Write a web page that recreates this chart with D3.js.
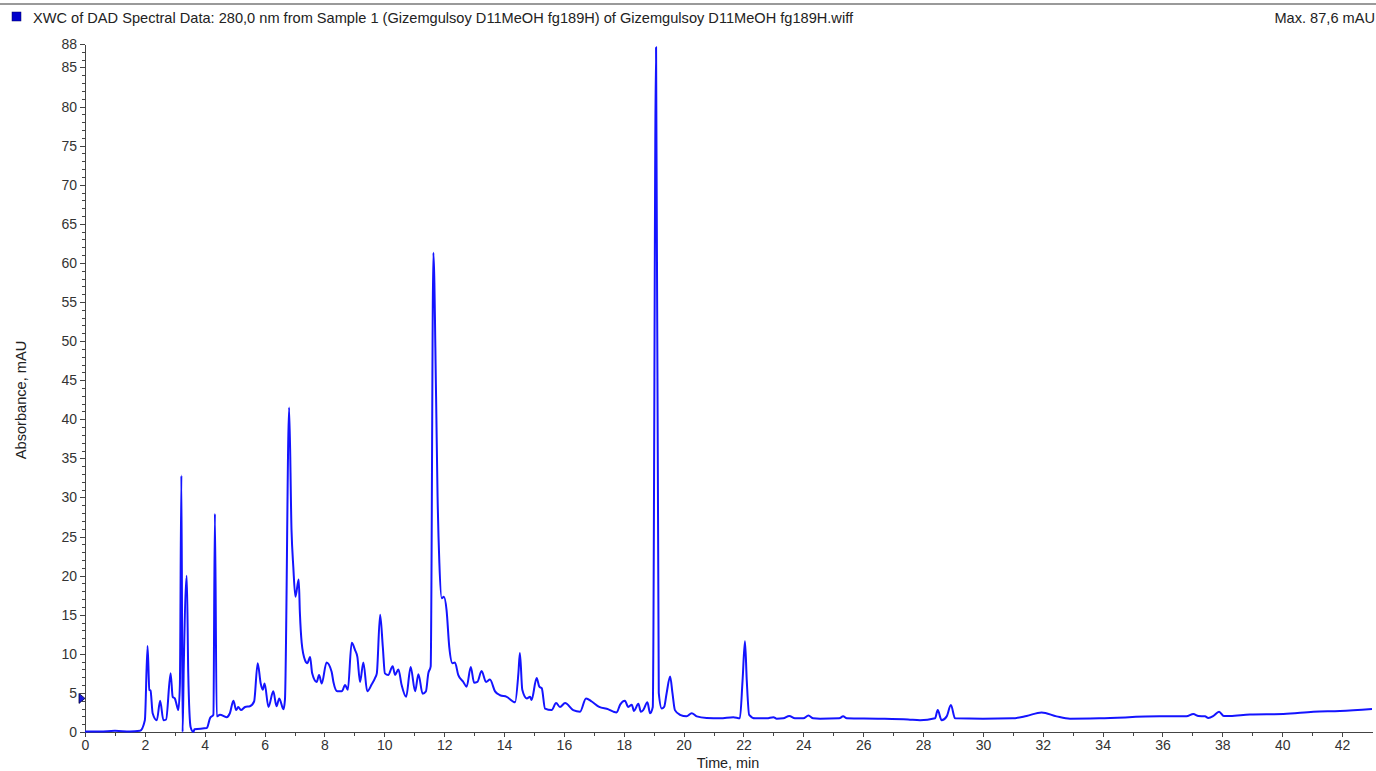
<!DOCTYPE html>
<meta charset="utf-8">
<style>
body { margin: 0; background: #fff; }
svg { display: block; font-family: "Liberation Sans", Arial, sans-serif; }
.axis path, .axis line { stroke: #444; shape-rendering: crispEdges; }
.axis text { fill: #333; font-size: 14px; }
</style>
<body>
<script src="https://d3js.org/d3.v7.min.js"></script>
<script>
// chromatogram trace (time in min, absorbance in mAU)
var times = [0, 0.5, 1.0, 1.5, 1.84, 2.0, 2.09, 2.15, 2.19, 2.26, 2.40, 2.51, 2.62, 2.71, 2.86, 2.93, 3.00, 3.06, 3.12, 3.17,
  3.22, 3.26, 3.30, 3.40, 3.45, 3.53, 3.62, 3.66, 4.07, 4.18, 4.29, 4.34, 4.40, 4.51, 4.73, 4.84, 4.96, 5.05, 5.12, 5.21,
  5.35, 5.51, 5.65, 5.77, 5.87, 5.94, 6.00, 6.13, 6.29, 6.40, 6.49, 6.63, 6.68, 6.82, 6.90, 6.96, 7.03, 7.14, 7.18, 7.24,
  7.35, 7.43, 7.52, 7.59, 7.74, 7.82, 7.91, 8.07, 8.24, 8.30, 8.43, 8.58, 8.69, 8.78, 8.91, 9.02, 9.10, 9.19, 9.30, 9.43,
  9.58, 9.69, 9.75, 9.86, 9.95, 10.02, 10.13, 10.28, 10.36, 10.47, 10.58, 10.73, 10.88, 11.03, 11.14, 11.28, 11.39, 11.47, 11.55, 11.64,
  11.73, 11.78, 11.84, 11.92, 11.99, 12.08, 12.17, 12.28, 12.36, 12.47, 12.64, 12.75, 12.89, 13.00, 13.11, 13.25, 13.40, 13.53, 13.70, 13.87,
  14.09, 14.37, 14.48, 14.53, 14.61, 14.76, 14.87, 14.92, 15.09, 15.18, 15.26, 15.37, 15.59, 15.74, 15.87, 16.04, 16.31, 16.54, 16.74, 16.93,
  17.18, 17.49, 17.65, 17.76, 17.88, 18.04, 18.15, 18.27, 18.34, 18.49, 18.57, 18.65, 18.79, 18.88, 18.97, 19.08, 19.17, 19.27, 19.35, 19.43,
  19.55, 19.63, 19.71, 19.88, 20.10, 20.27, 20.44, 20.77, 21.22, 21.66, 21.88, 21.97, 22.05, 22.11, 22.19, 22.39, 22.78, 23.00, 23.11, 23.33,
  23.53, 23.72, 24.00, 24.17, 24.33, 24.56, 25.20, 25.33, 25.45, 26.50, 27.50, 27.90, 28.40, 28.49, 28.62, 28.79, 28.93, 29.07, 30.00, 31.00,
  31.46, 31.96, 32.46, 32.91, 33.90, 35.90, 36.80, 37.03, 37.20, 37.42, 37.53, 37.70, 37.89, 38.05, 38.26, 38.92, 40.04, 41.04, 41.93, 43.00];
var absorbance = [0.05, 0.05, 0.15, 0.05, 0.15, 1.5, 11.0, 5.4, 5.3, 2.4, 1.5, 4.0, 1.5, 1.6, 7.5, 4.5, 4.3, 3.5, 2.8, 6.0,
  32.8, 0.0, 8.5, 20.0, 7.5, 0.6, 0.0, 0.35, 0.5, 1.8, 2.2, 27.9, 2.0, 2.2, 1.9, 2.4, 4.0, 2.8, 3.2, 2.8,
  3.2, 3.3, 3.9, 8.8, 6.2, 5.4, 6.2, 3.2, 5.2, 3.3, 4.3, 2.9, 4.1, 41.5, 25.8, 21.1, 17.3, 19.5, 15.2, 11.4,
  9.2, 8.8, 9.6, 7.5, 6.4, 7.3, 6.2, 8.9, 7.7, 6.4, 5.2, 5.2, 6.0, 5.4, 11.4, 10.5, 9.6, 6.4, 8.9, 5.2,
  6.1, 6.9, 7.5, 15.0, 10.9, 7.5, 7.3, 8.4, 7.3, 8.0, 6.0, 4.5, 8.3, 5.2, 7.4, 4.9, 5.2, 7.5, 8.4, 61.3,
  42.9, 30.1, 21.6, 17.1, 17.3, 15.6, 10.9, 8.8, 8.9, 7.3, 6.4, 5.8, 8.3, 6.3, 6.4, 7.8, 6.4, 6.7, 5.2, 4.7,
  4.5, 3.8, 7.5, 10.1, 5.4, 4.3, 4.5, 4.1, 6.9, 5.8, 5.6, 3.0, 2.8, 3.7, 3.2, 3.7, 2.8, 2.6, 4.3, 3.9,
  3.2, 2.9, 2.6, 2.5, 3.5, 4.0, 3.2, 3.5, 2.7, 3.6, 2.6, 2.8, 3.8, 2.4, 3.2, 87.6, 5.0, 3.0, 3.2, 4.9,
  7.1, 4.9, 2.8, 2.2, 2.0, 2.4, 2.0, 1.8, 1.75, 1.9, 1.75, 6.6, 11.6, 6.6, 2.2, 1.75, 1.75, 1.9, 1.7, 1.75,
  2.05, 1.75, 1.75, 2.1, 1.75, 1.7, 1.75, 2.0, 1.75, 1.7, 1.6, 1.5, 1.75, 2.8, 1.5, 2.0, 3.45, 1.75, 1.7, 1.75,
  2.05, 2.5, 2.0, 1.7, 1.75, 2.0, 2.0, 2.3, 2.05, 2.0, 1.8, 2.05, 2.6, 2.05, 2.05, 2.25, 2.3, 2.6, 2.7, 2.95];

var xTickLabels = d3.range(0, 43, 2);
var yTickLabels = d3.range(0, 90, 5).filter(function(d) { return d <= 85; }).concat([88]);

var title = "XWC of DAD Spectral Data: 280,0 nm from Sample 1 (Gizemgulsoy D11MeOH fg189H) of Gizemgulsoy D11MeOH fg189H.wiff";
var maxText = "Max. 87,6 mAU";

var W = 1376, H = 771;
var svg = d3.select("body").append("svg").attr("width", W).attr("height", H);

var x = d3.scaleLinear().domain([0, 43]).range([85, 1372]);
var y = d3.scaleLinear().domain([0, 88]).range([732, 44]);

// header
svg.append("line").attr("x1", 0).attr("x2", W).attr("y1", 4).attr("y2", 4)
  .attr("stroke", "#9a9a9a").attr("stroke-width", 2);
svg.append("rect").attr("x", 12).attr("y", 12).attr("width", 9).attr("height", 9)
  .attr("fill", "#0000cc").attr("stroke", "#000066").attr("stroke-width", 0.5);
svg.append("text").attr("x", 33).attr("y", 23).attr("font-size", 14.6).attr("fill", "#222").text(title);
svg.append("text").attr("x", 1375).attr("y", 23).attr("font-size", 14.6).attr("fill", "#222")
  .attr("text-anchor", "end").text(maxText);

// axes
svg.append("g").attr("class", "axis").attr("transform", "translate(0,732)")
  .call(d3.axisBottom(x).tickValues(xTickLabels).tickSize(5).tickSizeOuter(0).tickPadding(3).tickFormat(d3.format("d")));
svg.append("g").attr("class", "axis").attr("transform", "translate(0,732)")
  .call(d3.axisBottom(x).tickValues(d3.range(1, 43, 2)).tickSize(4).tickFormat("").tickSizeOuter(0))
  .select(".domain").remove();

svg.append("g").attr("class", "axis").attr("transform", "translate(85,0)")
  .call(d3.axisLeft(y).tickValues(yTickLabels).tickSize(5).tickSizeOuter(0).tickPadding(3).tickFormat(d3.format("d")));
svg.append("g").attr("class", "axis").attr("transform", "translate(85,0)")
  .call(d3.axisLeft(y).tickValues(d3.range(1, 88).filter(function(d) { return d % 5 !== 0; })).tickSize(3).tickFormat("").tickSizeOuter(0))
  .select(".domain").remove();

svg.append("text").attr("transform", "translate(26,400) rotate(-90)")
  .attr("text-anchor", "middle").attr("font-size", 14.6).attr("fill", "#222").text("Absorbance, mAU");
svg.append("text").attr("x", 728).attr("y", 768)
  .attr("text-anchor", "middle").attr("font-size", 14.4).attr("fill", "#222").text("Time, min");

// trace
var pts = times.map(function(t, i) { return [t, absorbance[i]]; });
var line = d3.line().x(function(d) { return x(d[0]); }).y(function(d) { return y(d[1]); }).curve(d3.curveMonotoneX);
svg.append("path").datum(pts).attr("d", line)
  .attr("fill", "none").attr("stroke", "#1414ff").attr("stroke-width", 2).attr("stroke-linejoin", "round");

// baseline marker on the y axis
var my = y(4.3);
svg.append("path").attr("d", "M79," + (my - 5) + "L85," + my + "L79," + (my + 5) + "Z")
  .attr("fill", "#1a1ae0").attr("stroke", "#000033").attr("stroke-width", 0.8);
</script>
